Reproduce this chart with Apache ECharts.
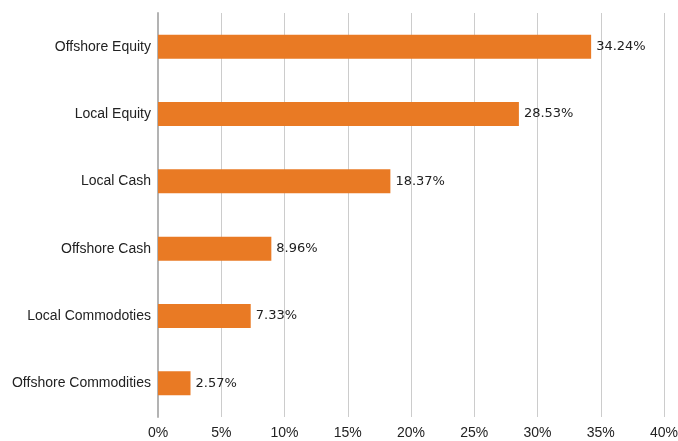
<!DOCTYPE html>
<html><head><meta charset="utf-8">
<script src="https://cdn.jsdelivr.net/npm/echarts@6/dist/echarts.min.js"></script>
<style>html,body{margin:0;padding:0;background:#fff}#c{width:678px;height:441px}</style>
</head><body><div id="c"></div>
<script>
var categories = ["Offshore Equity","Local Equity","Local Cash","Offshore Cash","Local Commodoties","Offshore Commodities"];
var values = [34.24, 28.53, 18.37, 8.96, 7.33, 2.57];
var xTicks = [0,5,10,15,20,25,30,35,40];

var chart = echarts.init(document.getElementById('c'));
chart.setOption({
  animation: false,
  grid: {left: 158, right: 14, top: 13, bottom: 24, containLabel: false, outerBoundsMode: 'none'},
  xAxis: {
    type: 'value', min: 0, max: 40, interval: 5,
    axisLine: {show: false}, axisTick: {show: false},
    splitLine: {lineStyle: {color: '#cccccc', width: 1}},
    axisLabel: {formatter: function(v){return v + '%';}, color: '#222', fontFamily: 'Liberation Sans', fontSize: 14, margin: 9}
  },
  yAxis: {
    type: 'category', data: categories, inverse: true,
    axisLine: {show: true, lineStyle: {color: '#b3b3b3', width: 2}},
    axisTick: {show: false},
    axisLabel: {color: '#222', fontFamily: 'Liberation Sans', fontSize: 14, margin: 7}
  },
  series: [{
    type: 'bar', data: values, barWidth: 24,
    itemStyle: {color: '#E97A24'},
    label: {show: true, position: 'right', distance: 5, formatter: function(p){return p.value.toFixed(2) + '%';},
      color: '#222', fontFamily: 'DejaVu Sans', fontSize: 13}
  }]
});
</script></body></html>
